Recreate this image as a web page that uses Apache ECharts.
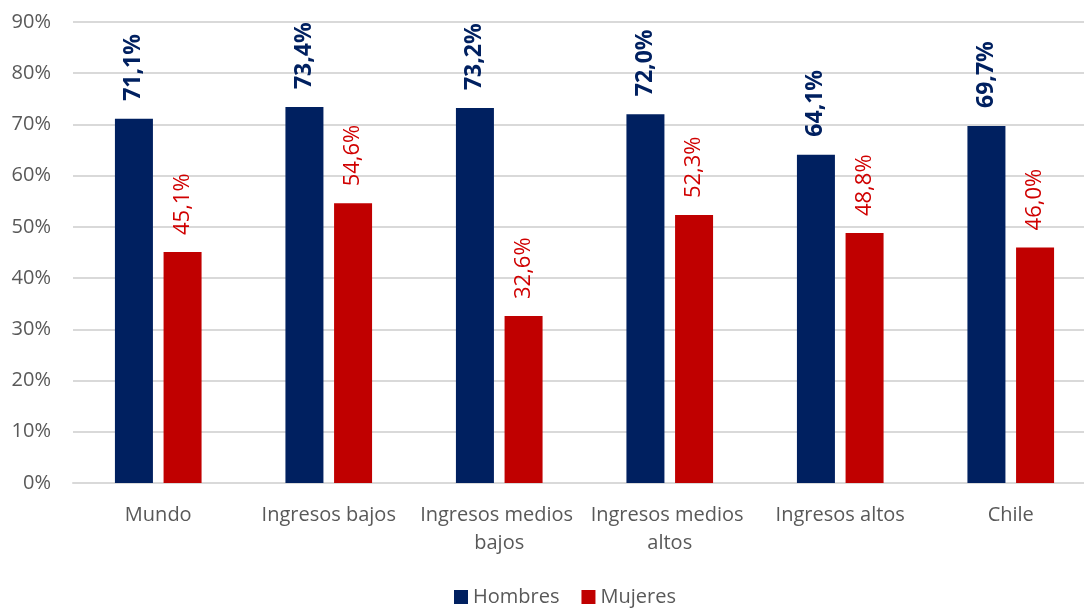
<!DOCTYPE html>
<html>
<head>
<meta charset="utf-8">
<script src="https://cdn.jsdelivr.net/npm/echarts@6/dist/echarts.min.js"></script>
<style>
html,body{margin:0;padding:0;background:#fff;}
#c{width:1084px;height:608px;}
</style>
</head>
<body>
<div id="c"></div>
<script>
const categories = ['Mundo', 'Ingresos bajos', 'Ingresos medios bajos', 'Ingresos medios altos', 'Ingresos altos', 'Chile'];
const hombres = [71.1, 73.4, 73.2, 72.0, 64.1, 69.7];
const mujeres = [45.1, 54.6, 32.6, 52.3, 48.8, 46.0];
const yTicks = [0, 10, 20, 30, 40, 50, 60, 70, 80, 90];

const FONT = '"Open Sans", Lato, sans-serif';
const fmt = p => p.value.toFixed(1).replace('.', ',') + '%';

const chart = echarts.init(document.getElementById('c'), null, {renderer: 'canvas'});
chart.setOption({
  animation: false,
  backgroundColor: '#ffffff',
  textStyle: {fontFamily: FONT},
  grid: {left: 73, top: 22, width: 1023, height: 461, containLabel: false, outerBoundsMode: 'none'},
  legend: {
    data: ['Hombres', 'Mujeres'],
    left: 449, top: 582,
    itemWidth: 14, itemHeight: 14, itemGap: 22,
    icon: 'rect',
    textStyle: {fontFamily: FONT, fontSize: 20, color: '#595959'}
  },
  xAxis: {
    type: 'category',
    data: categories,
    axisLine: {show: true, lineStyle: {color: '#d9d9d9', width: 2}},
    axisTick: {show: false},
    axisLabel: {
      fontFamily: FONT, fontSize: 20, color: '#595959',
      margin: 18, lineHeight: 28, width: 168, overflow: 'break', interval: 0
    }
  },
  yAxis: {
    type: 'value',
    min: yTicks[0], max: yTicks[yTicks.length - 1], interval: 10,
    axisLine: {show: false},
    axisTick: {show: false},
    splitLine: {lineStyle: {color: '#d9d9d9', width: 2}},
    axisLabel: {fontFamily: FONT, fontSize: 20, color: '#595959', margin: 22, formatter: '{value}%'}
  },
  series: [
    {
      name: 'Hombres', type: 'bar', data: hombres,
      barWidth: 38, barGap: '28%',
      itemStyle: {color: '#002060'},
      label: {
        show: true, position: 'top', distance: 18, rotate: 90,
        align: 'left', verticalAlign: 'middle',
        fontFamily: FONT, fontSize: 23, fontWeight: 'bold', color: '#002060',
        formatter: fmt
      }
    },
    {
      name: 'Mujeres', type: 'bar', data: mujeres,
      barWidth: 38, barGap: '28%',
      itemStyle: {color: '#C00000'},
      label: {
        show: true, position: 'top', distance: 17, rotate: 90,
        align: 'left', verticalAlign: 'middle',
        fontFamily: FONT, fontSize: 22, color: '#D00000',
        formatter: fmt
      }
    }
  ]
});
</script>
</body>
</html>
